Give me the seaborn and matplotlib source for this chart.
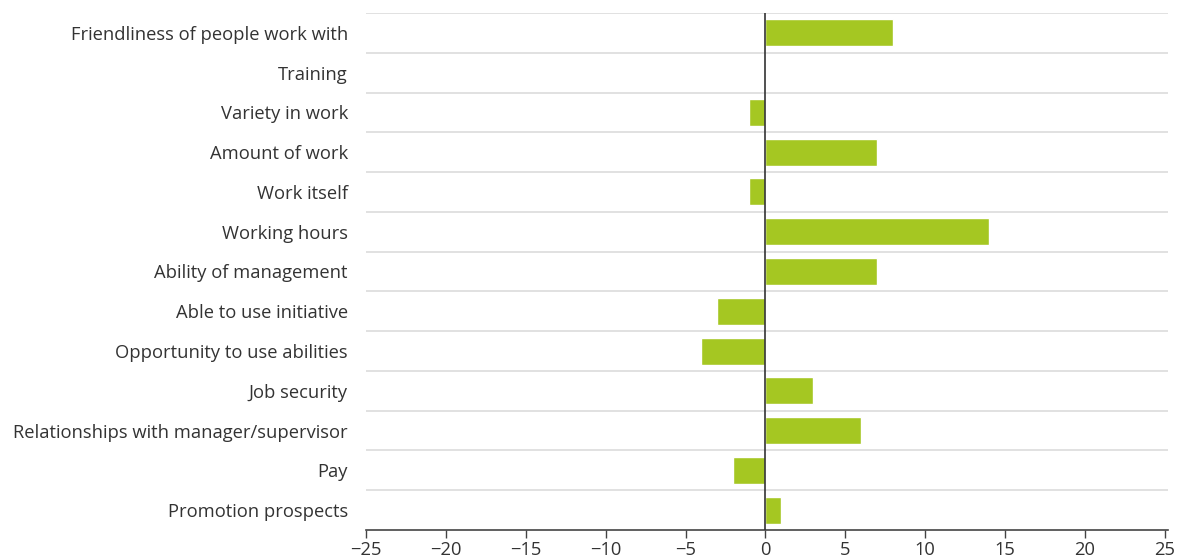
import matplotlib
matplotlib.use("Agg")
import matplotlib.pyplot as plt
import seaborn as sns
import pandas as pd
import numpy as np

categories = [
    "Friendliness of people work with",
    "Training",
    "Variety in work",
    "Amount of work",
    "Work itself",
    "Working hours",
    "Ability of management",
    "Able to use initiative",
    "Opportunity to use abilities",
    "Job security",
    "Relationships with manager/supervisor",
    "Pay",
    "Promotion prospects",
]
values = [8, 0, -1, 7, -1, 14, 7, -3, -4, 3, 6, -2, 1]
xticks = [-25, -20, -15, -10, -5, 0, 5, 10, 15, 20, 25]
xtick_labels = ["\u221225", "\u221220", "\u221215", "\u221210", "\u22125", "0", "5", "10", "15", "20", "25"]

sns.set_theme(style="white")
plt.rcParams['font.family'] = ['Open Sans', 'DejaVu Sans']

df = pd.DataFrame({"category": categories, "value": values})

fig = plt.figure(figsize=(11.87, 5.59), dpi=100)
ax = fig.add_axes([366/1187, 1 - 530/559, (1168 - 366)/1187, (530 - 13)/559])

sns.barplot(data=df, x="value", y="category", orient="h", color="#a5c722",
            saturation=1, width=0.68, ax=ax, order=categories)

ax.set_xlim(-25, 25.2)
ax.set_ylim(12.5, -0.5)
ax.set_xticks(xticks)
ax.set_xticklabels(xtick_labels, fontsize=13.2, color="#333333")
ax.set_xlabel("")
ax.set_ylabel("")
ax.tick_params(axis="y", length=0, labelsize=13.2, labelcolor="#333333", pad=13)
ax.tick_params(axis="x", direction="out", length=6, width=1, color="#444444",
               bottom=True, pad=2)

ax.set_yticks(np.arange(-0.5, 12, 1.0), minor=True)
ax.grid(False)
ax.grid(True, which="minor", axis="y", color="#dcdcdc", linewidth=1.2)
ax.tick_params(axis="y", which="minor", length=0)

for s in ["top", "right", "left"]:
    ax.spines[s].set_visible(False)
ax.spines["bottom"].set_color("#444444")
ax.spines["bottom"].set_linewidth(1.2)

ax.axvline(0, color="#333333", linewidth=1.2, zorder=3)

fig.savefig("out.png", dpi=100)
